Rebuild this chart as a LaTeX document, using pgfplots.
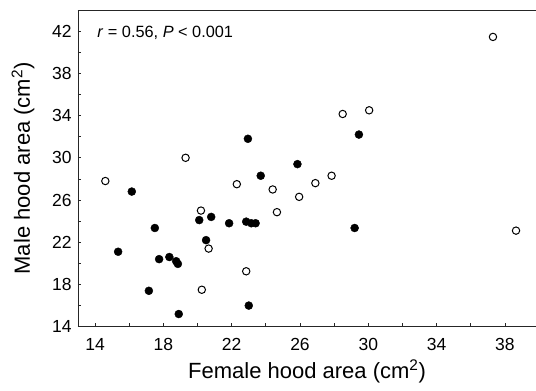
\documentclass[border=0pt]{standalone}
\usepackage{fontspec}
\setmainfont{Liberation Sans}
\usepackage{pgfplots}
\pgfplotsset{compat=1.18}
\begin{document}
\begin{tikzpicture}
\begin{axis}[
  name=ax,
  scale only axis,
  width=458bp, height=316.7bp,
  xmin=13, xmax=39.82, ymin=14, ymax=44,
  axis x line*=bottom, axis y line*=left,
  axis line style={line width=0.9bp, black!85},
  tick align=inside,
  xtick={14,18,...,38}, minor xtick={16,20,...,40},
  ytick={14,18,...,42}, minor ytick={16,20,...,44},
  major tick length=3.5bp, minor tick length=3.5bp,
  tick style={line width=0.8bp, black!85},
  /pgf/number format/assume math mode=true,
  xticklabel style={font=\fontsize{17.5bp}{20bp}\selectfont, inner sep=0pt, anchor=base, yshift=-23.3bp},
  yticklabel style={font=\fontsize{17.5bp}{20bp}\selectfont, inner sep=0pt, anchor=east, xshift=-6.3bp},
  xlabel={Female hood area (cm\textsuperscript{2})},
  ylabel={Male hood area (cm\textsuperscript{2})},
  xlabel style={font=\fontsize{22bp}{26bp}\selectfont, at={(axis description cs:0.5,0)}, anchor=base, yshift=-51.3bp, inner sep=0pt},
  ylabel style={font=\fontsize{22bp}{26bp}\selectfont, at={(axis description cs:0,0.5)}, anchor=center, rotate=0, yshift=55bp, inner sep=0pt},
  clip=false,
]
\draw[line width=0.9bp, black!85] (rel axis cs:0,1) -- (rel axis cs:1,1);
\addplot[only marks, mark=*, mark size=3.7bp, mark options={fill=white, draw=black, line width=1bp}] coordinates {
(14.6,27.8) (19.3,30.0) (22.3,27.5) (24.4,27.0) (25.95,26.3) (37.3,41.45)
(28.5,34.15) (30.05,34.5) (26.9,27.6) (27.85,28.3) (24.65,24.85) (20.2,25.0)
(20.65,21.4) (22.85,19.25) (20.25,17.5) (38.65,23.1)
};
\addplot[only marks, mark=*, mark size=4bp, mark options={fill=black, draw=black}] coordinates {
(16.15,26.8) (22.95,31.8) (23.7,28.3) (25.85,29.4) (29.45,32.2) (20.1,24.1)
(20.8,24.4) (21.85,23.8) (22.85,23.95) (23.15,23.8) (23.4,23.8) (17.5,23.35)
(15.35,21.1) (20.5,22.2) (17.75,20.4) (18.35,20.6) (18.75,20.2) (18.85,19.95)
(17.15,17.4) (23.0,16.0) (18.9,15.2) (29.2,23.35)
};
\node[anchor=base west, inner sep=0pt, font=\fontsize{16.3bp}{19bp}\selectfont] at (rel axis cs:0.042,0.9125) {\textit{r} = 0.56, \textit{P} < 0.001};
\end{axis}
\pgfresetboundingbox
\path[use as bounding box] ([shift={(-78bp,-64.3bp)}]ax.south west) rectangle ([shift={(0pt,10bp)}]ax.north east);
\end{tikzpicture}
\end{document}
